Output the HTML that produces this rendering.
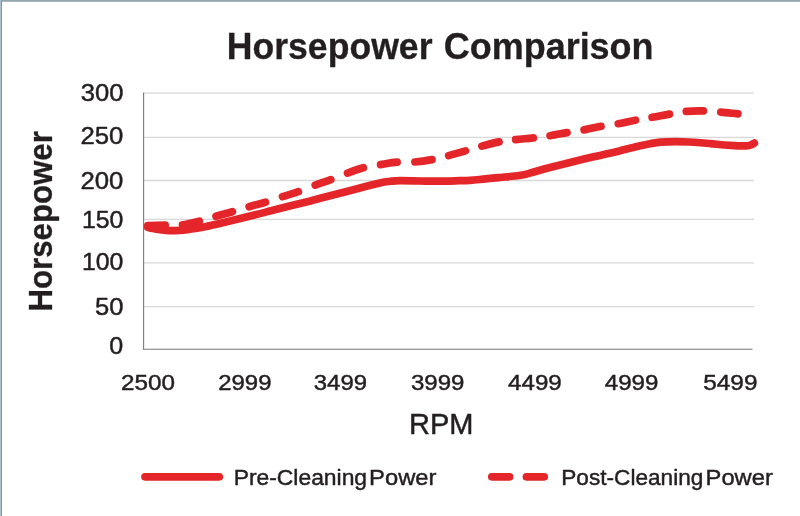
<!DOCTYPE html>
<html>
<head>
<meta charset="utf-8">
<title>Horsepower Comparison</title>
<style>
html,body{margin:0;padding:0;background:#fff;}
body{width:800px;height:516px;overflow:hidden;position:relative;font-family:"Liberation Sans",sans-serif;}
svg{display:block;position:absolute;left:0;top:0;}
text{font-family:"Liberation Sans",sans-serif;fill:#231f20;stroke:#231f20;stroke-width:0.45px;stroke-linejoin:round;}
.b{font-weight:bold;stroke-width:0.3px;}
</style>
</head>
<body>
<svg width="800" height="516" viewBox="0 0 800 516">
  <rect x="0" y="0" width="800" height="516" fill="#ffffff"/>
  <!-- frame -->
  <rect x="0" y="0" width="800" height="1.8" fill="#93a6ae"/>
  <rect x="0" y="0" width="1" height="516" fill="#a9c1cf"/>
  <rect x="1" y="1" width="1" height="515" fill="#8295a1"/>

  <!-- gridlines -->
  <g stroke="#d8d8d8" stroke-width="1.3" fill="none">
    <line x1="144" y1="93.1" x2="754" y2="93.1"/>
    <line x1="144" y1="137.3" x2="754" y2="137.3"/>
    <line x1="144" y1="180.5" x2="754" y2="180.5"/>
    <line x1="144" y1="219.3" x2="754" y2="219.3"/>
    <line x1="144" y1="262.8" x2="754" y2="262.8"/>
    <line x1="144" y1="306.7" x2="754" y2="306.7"/>
  </g>
  <!-- axes -->
  <g stroke="#787878" stroke-width="1.1" fill="none">
    <line x1="143.6" y1="92.5" x2="143.6" y2="349.6"/>
    <line x1="143.1" y1="349.2" x2="752.5" y2="349.2"/>
  </g>

  <!-- title -->
  <text class="b" x="226.75" y="59.2" font-size="36.2" textLength="205.75" lengthAdjust="spacingAndGlyphs">Horsepower</text>
  <text class="b" x="443.75" y="59.2" font-size="36.2" textLength="209.81" lengthAdjust="spacingAndGlyphs">Comparison</text>
  <text x="80.71" y="101.1" font-size="23.9" textLength="42.71" lengthAdjust="spacingAndGlyphs">300</text>
  <text x="80.47" y="143.5" font-size="23.9" textLength="42.96" lengthAdjust="spacingAndGlyphs">250</text>
  <text x="80.47" y="189.1" font-size="23.9" textLength="42.96" lengthAdjust="spacingAndGlyphs">200</text>
  <text x="81.97" y="227.9" font-size="23.9" textLength="41.47" lengthAdjust="spacingAndGlyphs">150</text>
  <text x="81.97" y="270.1" font-size="23.9" textLength="41.47" lengthAdjust="spacingAndGlyphs">100</text>
  <text x="94.93" y="315.4" font-size="23.9" textLength="28.48" lengthAdjust="spacingAndGlyphs">50</text>
  <text x="109.27" y="354.4" font-size="23.9" textLength="13.96" lengthAdjust="spacingAndGlyphs">0</text>
  <text x="121.08" y="390.0" font-size="22.2" textLength="54.00" lengthAdjust="spacingAndGlyphs">2500</text>
  <text x="218.22" y="390.0" font-size="22.2" textLength="53.21" lengthAdjust="spacingAndGlyphs">2999</text>
  <text x="313.81" y="390.0" font-size="22.2" textLength="53.16" lengthAdjust="spacingAndGlyphs">3499</text>
  <text x="410.97" y="390.0" font-size="22.2" textLength="53.51" lengthAdjust="spacingAndGlyphs">3999</text>
  <text x="508.06" y="390.0" font-size="22.2" textLength="53.71" lengthAdjust="spacingAndGlyphs">4499</text>
  <text x="604.76" y="390.0" font-size="22.2" textLength="53.71" lengthAdjust="spacingAndGlyphs">4999</text>
  <text x="703.27" y="390.0" font-size="22.2" textLength="54.21" lengthAdjust="spacingAndGlyphs">5499</text>
  <text x="408.95" y="433.8" font-size="28.6" textLength="64.49" lengthAdjust="spacingAndGlyphs">RPM</text>
  <text x="233.65" y="484.6" font-size="22.9" textLength="133.45" lengthAdjust="spacingAndGlyphs">Pre-Cleaning</text>
  <text x="369.13" y="484.6" font-size="22.9" textLength="67.27" lengthAdjust="spacingAndGlyphs">Power</text>
  <text x="561.25" y="484.6" font-size="22.9" textLength="142.15" lengthAdjust="spacingAndGlyphs">Post-Cleaning</text>
  <text x="705.58" y="484.6" font-size="22.9" textLength="67.32" lengthAdjust="spacingAndGlyphs">Power</text>

  <!-- y axis title -->
  <text class="b" transform="translate(51.7 311.6) rotate(-90)" font-size="32.5" textLength="180.4" lengthAdjust="spacingAndGlyphs">Horsepower</text>


  <!-- series -->
  <g fill="none" stroke="#e42529" stroke-width="7.7" stroke-linecap="round" stroke-linejoin="round">
    <path d="M147.8 227.2 C149.5 227.7 151.2 228.2 153 228.6 C155.3 229.1 157.7 229.5 160 229.8 C163.3 230.2 166.7 230.6 170 230.7 C173.3 230.8 176.7 230.6 180 230.4 C183.3 230.2 186.7 229.7 190 229.3 C193.3 228.9 196.7 228.4 200 227.8 C203.5 227.2 207 226.3 210.5 225.6 C213.5 224.9 216.6 224.3 219.6 223.6 C229.8 221.1 240.1 218.6 250.3 216 C256.9 214.4 263.4 212.7 270 211 C276.5 209.4 283.1 207.7 289.6 206.1 C296.5 204.4 303.4 202.7 310.3 200.9 C316.9 199.2 323.4 197.5 330 195.8 C336.5 194.1 343.1 192.4 349.6 190.7 C356.5 188.9 363.4 187.1 370.3 185.3 C373.5 184.5 376.8 183.7 380 183 C382 182.6 384 182.1 386 181.8 C388 181.5 390 181.3 392 181.1 C394.7 180.9 397.3 180.7 400 180.7 C406.7 180.7 413.3 180.9 420 181 C426.8 181.1 433.5 181.3 440.3 181.2 C446.9 181.2 453.4 180.9 460 180.7 C463.3 180.6 466.7 180.5 470 180.3 C473.2 180.1 476.4 179.8 479.6 179.5 C486.5 178.9 493.3 178.2 500.2 177.5 C505.1 177 510.1 176.6 515 176 C518.3 175.6 521.7 175.2 525 174.5 C527.7 173.9 530.3 173 533 172.2 C537 171.1 541 169.9 545 168.8 C548.3 167.9 551.7 167.1 555 166.2 C558.3 165.4 561.7 164.6 565 163.8 C568.3 162.9 571.7 162.1 575 161.2 C578.3 160.4 581.7 159.6 585 158.8 C590 157.7 595 156.5 600 155.4 C606.5 153.9 613.1 152.5 619.6 150.9 C626.5 149.3 633.3 147.4 640.2 145.8 C643.5 145 646.7 144.3 650 143.7 C653.4 143.1 656.9 142.4 660.4 142.1 C665.4 141.7 670.5 141.6 675.5 141.6 C680.2 141.6 684.9 141.7 689.6 142 C696.5 142.4 703.3 143 710.2 143.6 C716.9 144.2 723.7 145 730.4 145.4 C735.4 145.7 740.5 146 745.5 145.9 C747.4 145.8 749.2 145.4 751 144.8 C752.2 144.4 753.2 143.7 754.3 143.1"/>
    <path d="M147.8 225.5 C153.6 225.4 159.4 225.3 165.2 225.2 M182.5 224.9 C188.2 224.2 193.7 222.6 199.3 221.2 M216 216.3 C221.5 214.7 226.9 213.3 232.4 211.7 M249.1 206.7 C254.5 205.1 260 203.8 265.4 202.2 M282.5 196.6 C287.8 194.9 293.2 193.5 298.4 191.7 M315.2 185.1 C320.4 183.2 325.6 181.5 330.8 179.6 M347.5 173.1 C352.7 171.2 357.9 169.2 363.3 167.8 M380.6 164.6 C386.1 163.7 391.6 162.6 397.1 162.2 M414.9 162 C420.6 161.6 426.4 160.7 432 159.6 M448.7 155.6 C454.3 154.1 459.9 152.5 465.5 150.9 M481.9 146.1 C487.6 144.6 493.2 143 499 141.9 M515.6 139.6 C521.5 138.9 527.4 138.6 533.3 137.9 M550.1 135.7 C555.8 134.8 561.4 133.6 567 132.6 M584.1 129.9 C589.8 128.9 595.3 127.3 601 126.3 M618.3 123.7 C624 122.7 629.7 121.3 635.4 120.2 M652.1 117.3 C657.9 116.3 663.6 115.1 669.4 114.1 M686.3 111.3 C692 110.8 697.7 110.8 703.4 110.9 M720.8 112.1 C726.5 112.6 732.2 113.3 737.9 113.9"/>
  </g>

  <!-- legend -->
  <g fill="none" stroke="#e42529" stroke-width="7.7" stroke-linecap="round">
    <line x1="145" y1="476.8" x2="219.3" y2="476.8"/>
    <line x1="491.8" y1="476.8" x2="509.6" y2="476.8"/>
    <line x1="526.4" y1="476.8" x2="544.2" y2="476.8"/>
  </g>
</svg>
</body>
</html>
